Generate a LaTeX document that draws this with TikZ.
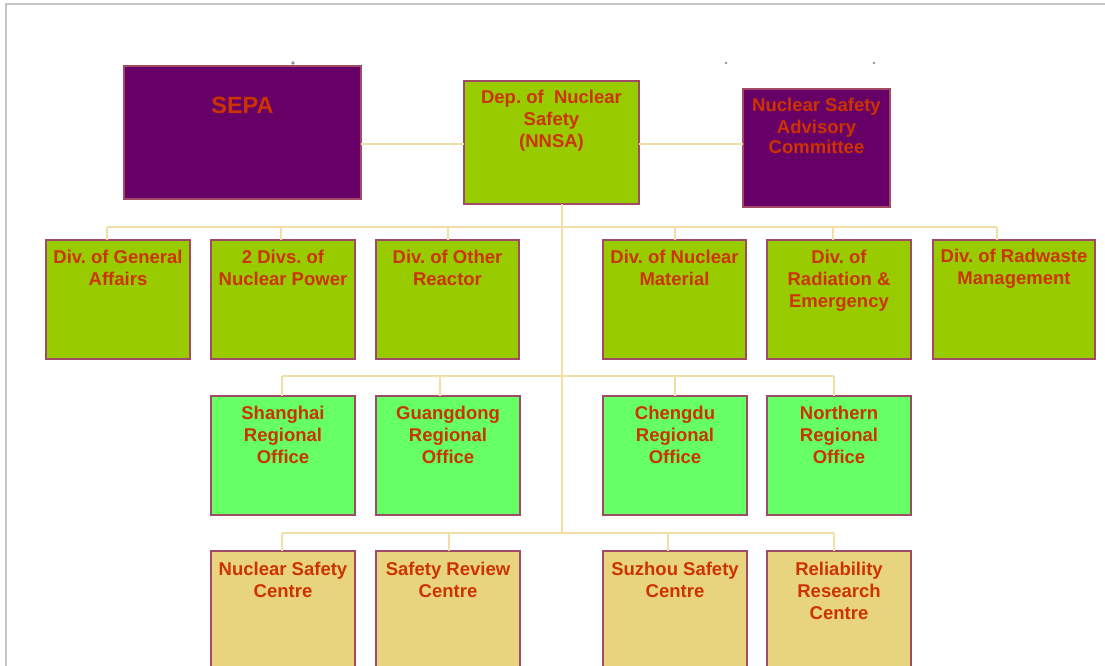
\documentclass[tikz,border=0pt]{standalone}
\usepackage{fontspec}
\setmainfont{Liberation Sans}
\frenchspacing
\definecolor{purp}{HTML}{660066}
\definecolor{lime}{HTML}{99CC00}
\definecolor{lgreen}{HTML}{66FF66}
\definecolor{tan}{HTML}{E8D47E}
\definecolor{txt}{HTML}{CC3300}
\definecolor{edge}{HTML}{A04A66}
\definecolor{conn}{HTML}{F2DFA5}
\definecolor{framec}{HTML}{C4C4C4}
\definecolor{dotc}{HTML}{8890A8}
\newcommand{\bxt}[4]{\parbox[t][#2][t]{#1}{\centering\bfseries\fontsize{18.5}{22}\selectfont\color{txt}\rule{0pt}{#3}#4}}
\tikzset{
  orgbox/.style={draw=edge, line width=1.3pt, inner sep=0pt, outer sep=0pt, anchor=north west},
  pbox/.style={orgbox, fill=purp},
  gbox/.style={orgbox, fill=lime},
  rbox/.style={orgbox, fill=lgreen},
  cbox/.style={orgbox, fill=tan},
  link/.style={draw=conn, line width=2pt}
}
\begin{document}
\begin{tikzpicture}[x=1pt,y=-1pt]
\useasboundingbox (0,0) rectangle (1105,666);
\clip (0,0) rectangle (1105,666);
\fill[white] (0,0) rectangle (1105,666);
% frame
\draw[framec, line width=2pt] (6,680) -- (6,4) -- (1120,4);
% tiny dots
\fill[dotc] (293,63) circle (1.8);
\fill[dotc] (726,63) circle (1.3);
\fill[dotc] (874,63) circle (1.3);

% coordinates for connectors
\coordinate (hl) at (0,144);
\coordinate (tk) at (562,533);
\coordinate (a1) at (107,227);
\coordinate (a2) at (281,227);
\coordinate (a3) at (448,227);
\coordinate (a4) at (675,227);
\coordinate (a5) at (833,227);
\coordinate (a6) at (997,227);
\coordinate (b1) at (282,376);
\coordinate (b2) at (440,376);
\coordinate (b3) at (675,376);
\coordinate (b4) at (834,376);
\coordinate (c1) at (282,533);
\coordinate (c2) at (449,533);
\coordinate (c3) at (668,533);
\coordinate (c4) at (834,533);

% top row
\node[pbox] (sepa) at (124,66) {\parbox[t][133pt][t]{237pt}{\centering\bfseries\fontsize{23.5}{26}\selectfont\color{txt}\rule{0pt}{48pt}SEPA}};
\node[gbox] (nnsa) at (464,81) {\bxt{175pt}{123pt}{23pt}{Dep. of~\ Nuclear\\Safety\\(NNSA)}};
\node[pbox] (nsac) at (743,89) {\parbox[t][118pt][t]{147pt}{\centering\bfseries\fontsize{18.5}{21}\selectfont\color{txt}\rule{0pt}{23pt}Nuclear Safety\\Advisory\\Committee}};

% divisions
\node[gbox] (ga) at (46,240) {\bxt{144pt}{119pt}{23pt}{Div. of General\\Affairs}};
\node[gbox] (np) at (211,240) {\bxt{144pt}{119pt}{23pt}{2 Divs. of\\Nuclear Power}};
\node[gbox] (orr) at (376,240) {\bxt{143pt}{119pt}{23pt}{Div. of Other\\Reactor}};
\node[gbox] (nm) at (603,240) {\bxt{143pt}{119pt}{23pt}{Div. of Nuclear\\Material}};
\node[gbox] (re) at (767,240) {\bxt{144pt}{119pt}{23pt}{Div. of\\Radiation \&\\Emergency}};
\node[gbox] (rm) at (933,240) {\bxt{162pt}{119pt}{22pt}{Div. of Radwaste\\Management}};

% regional offices
\node[rbox] (sh) at (211,396) {\bxt{144pt}{119pt}{23pt}{Shanghai\\Regional\\Office}};
\node[rbox] (gd) at (376,396) {\bxt{144pt}{119pt}{23pt}{Guangdong\\Regional\\Office}};
\node[rbox] (cd) at (603,396) {\bxt{144pt}{119pt}{23pt}{Chengdu\\Regional\\Office}};
\node[rbox] (no) at (767,396) {\bxt{144pt}{119pt}{23pt}{Northern\\Regional\\Office}};

% centres
\node[cbox] (nsc) at (211,551) {\bxt{144pt}{119pt}{24pt}{Nuclear Safety\\Centre}};
\node[cbox] (src) at (376,551) {\bxt{144pt}{119pt}{24pt}{Safety Review\\Centre}};
\node[cbox] (szc) at (603,551) {\bxt{144pt}{119pt}{24pt}{Suzhou Safety\\Centre}};
\node[cbox] (rrc) at (767,551) {\bxt{144pt}{119pt}{24pt}{Reliability\\Research\\Centre}};

% connectors
\draw[link] (sepa.east |- hl) -- (nnsa.west |- hl);
\draw[link] (nnsa.east |- hl) -- (nsac.west |- hl);
\draw[link] (tk |- nnsa.south) -- (tk);
\draw[link] (a1) -- (a6);
\draw[link] (a1) -- (a1 |- ga.north);
\draw[link] (a2) -- (a2 |- np.north);
\draw[link] (a3) -- (a3 |- orr.north);
\draw[link] (a4) -- (a4 |- nm.north);
\draw[link] (a5) -- (a5 |- re.north);
\draw[link] (a6) -- (a6 |- rm.north);
\draw[link] (b1) -- (b4);
\draw[link] (b1) -- (b1 |- sh.north);
\draw[link] (b2) -- (b2 |- gd.north);
\draw[link] (b3) -- (b3 |- cd.north);
\draw[link] (b4) -- (b4 |- no.north);
\draw[link] (c1) -- (c4);
\draw[link] (c1) -- (c1 |- nsc.north);
\draw[link] (c2) -- (c2 |- src.north);
\draw[link] (c3) -- (c3 |- szc.north);
\draw[link] (c4) -- (c4 |- rrc.north);
\end{tikzpicture}
\end{document}
